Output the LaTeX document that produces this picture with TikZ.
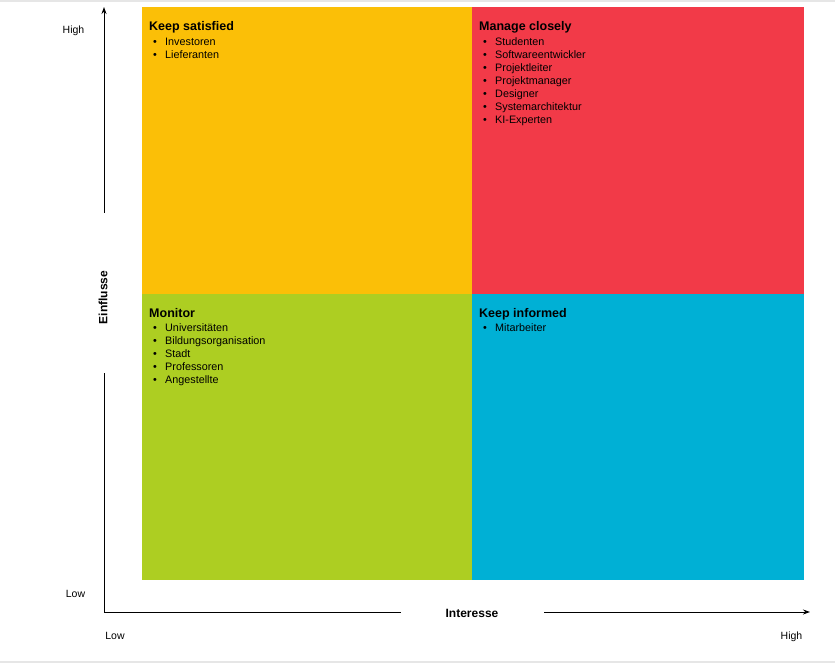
\documentclass[tikz,border=0pt]{standalone}
\usepackage{fontspec}
\setmainfont{Liberation Sans}
\usetikzlibrary{arrows.meta}
\definecolor{qorange}{HTML}{FBBF07}
\definecolor{qred}{HTML}{F23A48}
\definecolor{qgreen}{HTML}{ADCE22}
\definecolor{qblue}{HTML}{00B0D5}
\definecolor{edgegray}{HTML}{E6E6E6}
\begin{document}
\begin{tikzpicture}[x=1pt,y=-1pt,
  quad/.style={draw=none,inner sep=0pt,outer sep=0pt,anchor=north west,minimum width=#1},
  qtitle/.style={anchor=base west,inner sep=0pt,font=\fontsize{12.5}{14}\selectfont\bfseries},
  qitem/.style={anchor=base west,inner sep=0pt,font=\fontsize{10.8}{12}\selectfont},
  axlabel/.style={inner sep=0pt,font=\fontsize{10.5}{12}\selectfont},
  axtitle/.style={inner sep=0pt,font=\fontsize{12}{14}\selectfont\bfseries},
  axline/.style={line width=0.9pt,black},
  axarrow/.style={axline,-{Stealth[length=7pt,width=5pt]}}]
\useasboundingbox (0,0) rectangle (835,663);
\fill[white] (0,0) rectangle (835,663);
\fill[edgegray] (0,0) rectangle (835,2);
\fill[edgegray] (0,661) rectangle (835,663);
% quadrants
\node[quad=330pt,fill=qorange,minimum height=287pt] (q1) at (142,7) {};
\node[quad=332pt,fill=qred,minimum height=287pt] (q2) at (472,7) {};
\node[quad=330pt,fill=qgreen,minimum height=286pt] (q3) at (142,294) {};
\node[quad=332pt,fill=qblue,minimum height=286pt] (q4) at (472,294) {};
% titles
\node[qtitle] (t1) at (149,30.5) {Keep satisfied};
\node[qtitle] (t2) at (479,30.5) {Manage closely};
\node[qtitle] (t3) at (149,317) {Monitor};
\node[qtitle] (t4) at (479,317) {Keep informed};
% items
\foreach \txt [count=\i from 0] in {Investoren,Lieferanten}
  \node[qitem] (a\i) at (153,45.5+13*\i) {\makebox[12pt][l]{•}\txt};
\foreach \txt [count=\i from 0] in {Studenten,Softwareentwickler,Projektleiter,Projektmanager,Designer,Systemarchitektur,KI-Experten}
  \node[qitem] (b\i) at (483,45.5+13*\i) {\makebox[12pt][l]{•}\txt};
\foreach \txt [count=\i from 0] in {Universitäten,Bildungsorganisation,Stadt,Professoren,Angestellte}
  \node[qitem] (c\i) at (153,331.5+13*\i) {\makebox[12pt][l]{•}\txt};
\foreach \txt [count=\i from 0] in {Mitarbeiter}
  \node[qitem] (d\i) at (483,331.5+13*\i) {\makebox[12pt][l]{•}\txt};
% axes
\coordinate (O) at (104,612);
\coordinate (ytop) at (104,7);
\coordinate (ya) at (104,213);
\coordinate (yb) at (104,373);
\coordinate (xa) at (401,612);
\coordinate (xb) at (544,612);
\coordinate (xend) at (810,612);
\draw[axline] (yb) -- (O) -- (xa);
\draw[axarrow] (ya) -- (ytop);
\draw[axarrow] (xb) -- (xend);
\node[axtitle,rotate=90] (einf) at (103,297.5) {Einflusse};
\node[axtitle,anchor=base] (inter) at (472,617) {Interesse};
\node[axlabel,anchor=base] (yhigh) at (73.5,34) {High};
\node[axlabel,anchor=base] (ylow) at (75.5,597) {Low};
\node[axlabel,anchor=base] (xlow) at (115,639) {Low};
\node[axlabel,anchor=base] (xhigh) at (791.5,639) {High};
\end{tikzpicture}
\end{document}
